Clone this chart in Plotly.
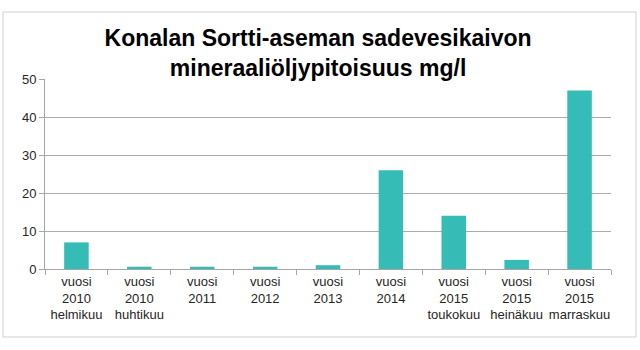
import plotly.graph_objects as go

categories = [
    "vuosi<br>2010<br>helmikuu",
    "vuosi<br>2010<br>huhtikuu",
    "vuosi<br>2011",
    "vuosi<br>2012",
    "vuosi<br>2013",
    "vuosi<br>2014",
    "vuosi<br>2015<br>toukokuu",
    "vuosi<br>2015<br>heinäkuu",
    "vuosi<br>2015<br>marraskuu",
]
values = [7, 0.6, 0.6, 0.6, 1.0, 26, 14, 2.4, 47]
title_text = "Konalan Sortti-aseman sadevesikaivon<br>mineraaliöljypitoisuus mg/l"

W, H = 640, 350
L, R, T, B = 45, 29, 79, 81

fig = go.Figure(go.Bar(x=categories, y=values, marker=dict(color="#35BCB6", line=dict(width=0))))

fig.update_layout(
    width=W, height=H,
    margin=dict(l=L, r=R, t=T, b=B),
    paper_bgcolor="white", plot_bgcolor="white",
    bargap=0.61,
    showlegend=False,
    font=dict(family="Liberation Sans, Arial", color="#262626"),
    title=dict(text="<b>" + title_text + "</b>", x=0.497, xanchor="center",
               y=1 - 46 / H, yanchor="middle", yref="container",
               font=dict(size=23, color="black", family="Liberation Sans, Arial")),
)
fig.update_xaxes(
    type="category", showgrid=False, showline=True, linecolor="#A6A6A6", linewidth=1,
    ticks="outside", tickson="boundaries", ticklen=5, tickcolor="#A6A6A6",
    tickfont=dict(size=13, color="#262626"), tickangle=0,
)
fig.update_yaxes(
    range=[0, 50], dtick=10, showgrid=True, gridcolor="#ABABAB", gridwidth=1,
    showline=True, linecolor="#A6A6A6", linewidth=1,
    ticks="outside", ticklen=5, tickcolor="#A6A6A6",
    tickfont=dict(size=13, color="#262626"), zeroline=False,
)

# outer chart border
pw = W - L - R
ph = H - T - B
fig.add_shape(type="rect", xref="paper", yref="paper",
              x0=(3 - L) / pw, x1=(636 - L) / pw,
              y0=(H - B - 337) / ph, y1=(H - B - 12) / ph,
              line=dict(color="#D0D0D0", width=1), fillcolor="rgba(0,0,0,0)", layer="below")

fig.write_html("out.html")
